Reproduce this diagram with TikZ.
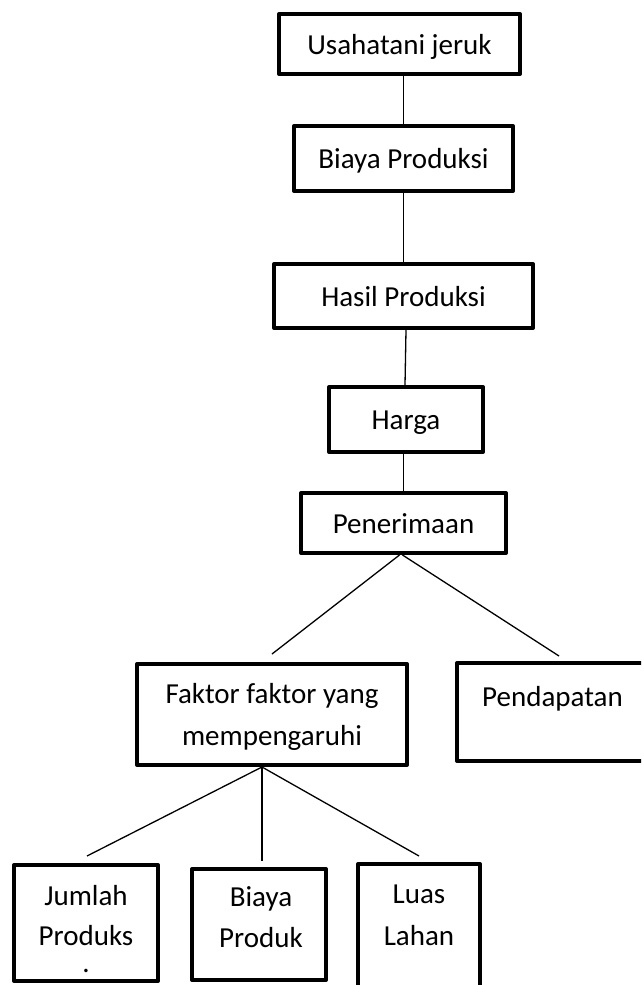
\documentclass[tikz,border=0pt]{standalone}
\usepackage{fontspec}
\setmainfont{Carlito}
\begin{document}
\begin{tikzpicture}[x=1pt,y=-1pt,
  box/.style={draw, line width=4pt, line join=round, rectangle, inner sep=0pt,
    font=\fontsize{29}{40}\selectfont, text height=20pt, text depth=0pt},
  conn/.style={line width=1.3pt},
  txt/.style={inner sep=0pt, anchor=base, font=\fontsize{29}{40}\selectfont}]
\useasboundingbox (0,0) rectangle (641,985);
\clip (0,0) rectangle (641,985);
% upper chain
\node[box, minimum width=241pt, minimum height=60pt] (u) at (399.5,44) {Usahatani jeruk};
\node[box, minimum width=219pt, minimum height=65pt] (bp) at (403.5,158.5) {Biaya Produksi};
\node[box, minimum width=259pt, minimum height=64pt] (hp) at (403.5,296) {Hasil Produksi};
\node[box, minimum width=154pt, minimum height=65pt] (hg) at (406,419.5) {Harga};
\node[box, minimum width=205pt, minimum height=60pt] (pn) at (403.5,523) {Penerimaan};
% middle row
\node[box, minimum width=270pt, minimum height=101pt] (fk) at (272,714.5) {};
\node[box, minimum width=191pt, minimum height=98pt] (pd) at (552.5,712) {};
% bottom row
\node[box, minimum width=144pt, minimum height=116pt] (jm) at (86,923) {};
\node[box, minimum width=134pt, minimum height=111pt] (bb) at (259,924.5) {};
\node[box, minimum width=122pt, minimum height=134pt] (ls) at (419,931) {};
% texts
\node[txt] (fk1) at (272,703) {Faktor faktor yang};
\node[txt] (fk2) at (272,745) {mempengaruhi};
\node[txt] (pdt) at (552.5,706) {Pendapatan};
\node[txt] (jm1) at (86,905) {Jumlah};
\node[txt] (jm2) at (86,945) {Produks};
\node[txt] (jm3) at (86,972) {.};
\node[txt] (bb1) at (261,906) {Biaya};
\node[txt] (bb2) at (261,947) {Produk};
\node[txt] (ls1) at (419,903) {Luas};
\node[txt] (ls2) at (419,945) {Lahan};
% connectors
\draw[conn] (bp.north) -- (bp.north |- u.south);
\draw[conn] (bp.south) -- (hp.north);
\draw[conn] (hp.south -| hg.north) -- ([xshift=-1pt]hg.north);
\draw[conn] (pn.north) -- (pn.north |- hg.south);
\draw[conn] ([xshift=-4pt]pn.south) -- ([yshift=8pt]fk.north);
\draw[conn] ([xshift=-1pt]pn.south) -- ([xshift=6.5pt,yshift=5pt]pd.north);
\draw[conn] ([xshift=-10pt]fk.south) -- ([xshift=1pt,yshift=7pt]jm.north);
\draw[conn] ([xshift=-10pt]fk.south) -- ([xshift=3pt,yshift=6pt]bb.north);
\draw[conn] ([xshift=-10pt]fk.south) -- ([yshift=6pt]ls.north);
\end{tikzpicture}
\end{document}
